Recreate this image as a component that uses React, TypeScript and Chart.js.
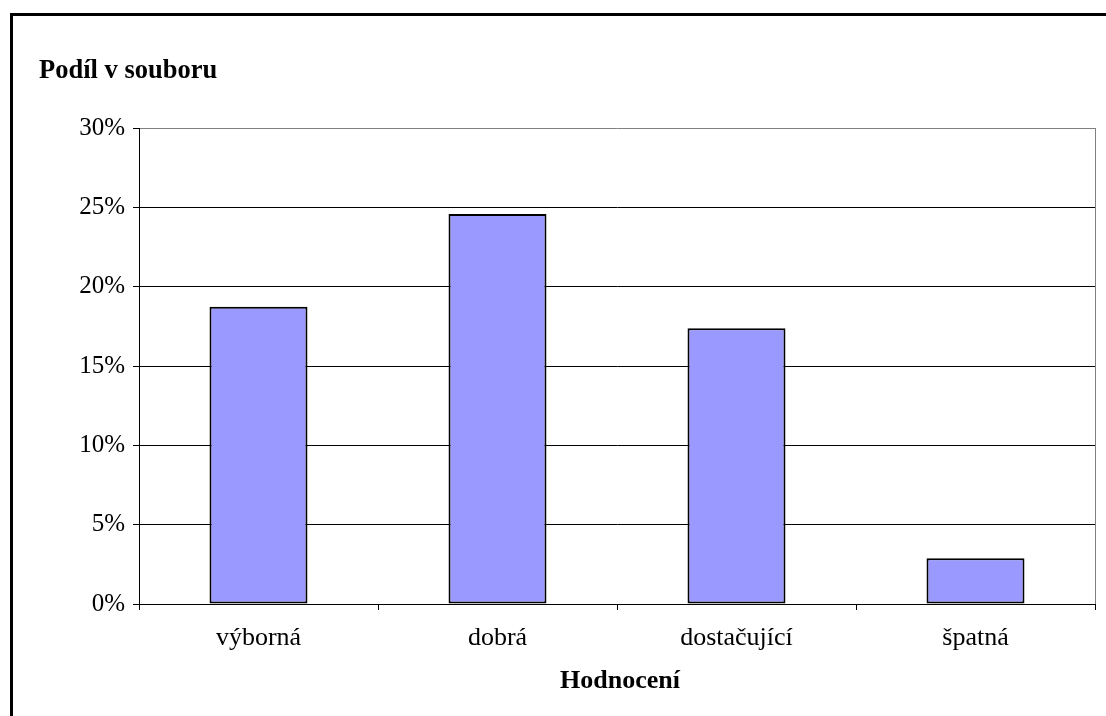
import React, { useEffect, useRef } from "react";
import { Chart, registerables } from "chart.js";

Chart.register(...registerables);

const categories = ["výborná", "dobrá", "dostačující", "špatná"];
const shares = [0.1874, 0.2458, 0.1738, 0.0288];
const yTicks = [0, 0.05, 0.1, 0.15, 0.2, 0.25, 0.3];
const chartTitle = "Podíl v souboru";
const xTitle = "Hodnocení";

const FONT = "'Liberation Serif', 'Times New Roman', serif";

const decorPlugin = {
  id: "decor",
  beforeDraw(chart: any) {
    const { ctx, width, height } = chart;
    ctx.save();
    ctx.fillStyle = "#ffffff";
    ctx.fillRect(0, 0, width, height);
    ctx.fillStyle = "#000000";
    ctx.fillRect(10, 13, 3, height);
    ctx.fillRect(10, 13, width, 3);
    ctx.restore();
  },
  afterDraw(chart: any) {
    const { ctx, chartArea } = chart;
    ctx.save();
    ctx.strokeStyle = "#808080";
    ctx.lineWidth = 1;
    ctx.beginPath();
    ctx.moveTo(chartArea.right + 0.5, chartArea.top);
    ctx.lineTo(chartArea.right + 0.5, chartArea.bottom);
    ctx.stroke();
    ctx.fillStyle = "#000000";
    ctx.font = `bold 26.5px ${FONT}`;
    ctx.textBaseline = "alphabetic";
    ctx.textAlign = "left";
    ctx.fillText(chartTitle, 39, 78);
    ctx.font = `bold 26px ${FONT}`;
    ctx.textAlign = "center";
    ctx.fillText(xTitle, (chartArea.left + chartArea.right) / 2 + 3, 688);
    ctx.restore();
  },
};

export default function App() {
  const ref = useRef<HTMLCanvasElement | null>(null);
  useEffect(() => {
    if (!ref.current) return;
    const chart = new Chart(ref.current, {
      type: "bar",
      data: {
        labels: categories,
        datasets: [
          {
            data: shares,
            backgroundColor: "#9999FF",
            borderColor: "#000000",
            borderWidth: 2,
            borderSkipped: false,
            barPercentage: 0.41,
            categoryPercentage: 1,
          },
        ],
      },
      options: {
        animation: false,
        responsive: false,
        devicePixelRatio: 1,
        layout: { padding: { left: 0, top: 128, right: 11, bottom: 0 } },
        plugins: {
          legend: { display: false },
          tooltip: { enabled: false },
          title: { display: false },
        },
        scales: {
          x: {
            afterFit: (s: any) => {
              s.height = 112;
            },
            grid: {
              drawOnChartArea: false,
              drawTicks: true,
              tickLength: 6,
              color: "#000000",
              offset: true,
            },
            border: { color: "#000000", width: 1 },
            ticks: {
              color: "#000000",
              font: { family: FONT, size: 26 },
              padding: 13,
              maxRotation: 0,
            },
          },
          y: {
            min: 0,
            max: 0.3,
            afterFit: (s: any) => {
              s.width = 139;
            },
            afterBuildTicks: (s: any) => {
              s.ticks = yTicks.map((v) => ({ value: v }));
            },
            grid: {
              color: (c: any) =>
                c.tick && Math.abs(c.tick.value - 0.3) < 1e-9 ? "#808080" : "#000000",
              tickColor: "#000000",
              tickLength: 6,
              lineWidth: 1,
            },
            border: { color: "#000000", width: 1 },
            ticks: {
              color: "#000000",
              font: { family: FONT, size: 25 },
              padding: 8,
              callback: (v: any) => `${Math.round(Number(v) * 100)}%`,
            },
          },
        },
      },
      plugins: [decorPlugin],
    });
    return () => chart.destroy();
  }, []);
  return (
    <div style={{ position: "absolute", left: 0, top: 0, width: 1106, height: 716 }}>
      <canvas ref={ref} width={1106} height={716} style={{ display: "block" }} />
    </div>
  );
}
